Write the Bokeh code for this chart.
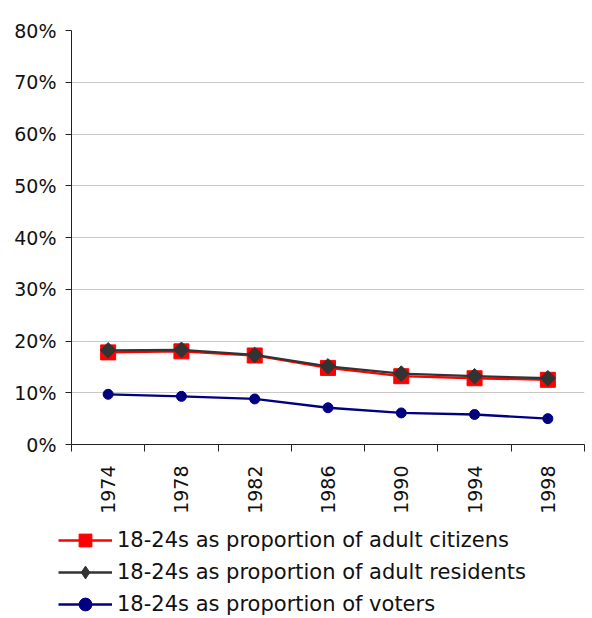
from bokeh.plotting import figure
from bokeh.layouts import column
from bokeh.models import (ColumnDataSource, Legend, LegendItem, FixedTicker,
                          NumeralTickFormatter, Range1d)
from bokeh.embed import file_html
from bokeh.resources import INLINE
import math

years = ["1974", "1978", "1982", "1986", "1990", "1994", "1998"]
citizens = [0.178, 0.180, 0.172, 0.148, 0.132, 0.128, 0.125]
residents = [0.182, 0.183, 0.173, 0.151, 0.137, 0.132, 0.128]
voters = [0.097, 0.093, 0.088, 0.071, 0.061, 0.058, 0.050]
y_ticks = [0.0, 0.1, 0.2, 0.3, 0.4, 0.5, 0.6, 0.7, 0.8]
labels = ["18-24s as proportion of adult citizens",
          "18-24s as proportion of adult residents",
          "18-24s as proportion of voters"]

xs = [i + 0.5 for i in range(len(years))]
src = ColumnDataSource(dict(x=xs, citizens=citizens, residents=residents, voters=voters))

FONT = "DejaVu Sans"
STYLES = [
    ("citizens", "#ff0000", dict(marker="square", size=15), dict(marker="square", size=15)),
    ("residents", "#333333", dict(marker="square", size=11, angle=math.pi / 4),
     dict(marker="diamond", size=17)),
    ("voters", "#000080", dict(marker="circle", size=10), dict(marker="circle", size=10)),
]


def add_series(fig, legend_style=False):
    out = []
    for col, color, mk, mk_leg in STYLES:
        ln = fig.line("x", col, source=src, line_color=color, line_width=2.3)
        sc = fig.scatter("x", col, source=src, fill_color=color, line_color=color,
                         **(mk_leg if legend_style else mk))
        out.append([ln, sc])
    return out


p = figure(frame_width=513, frame_height=414, output_backend="svg", toolbar_location=None,
           x_range=Range1d(0, len(years)), y_range=Range1d(0, 0.8),
           min_border_left=71, min_border_right=8, min_border_top=30, min_border_bottom=75)
p.outline_line_color = None
p.background_fill_color = "white"
p.border_fill_color = "white"
add_series(p)

# grid
p.xgrid.grid_line_color = None
p.ygrid.grid_line_color = "#c8c8c8"
p.ygrid.grid_line_width = 1

# y axis
p.yaxis.ticker = FixedTicker(ticks=y_ticks)
p.yaxis.formatter = NumeralTickFormatter(format="0%")
p.yaxis.major_tick_out = 6
p.yaxis.major_tick_in = 0
p.yaxis.minor_tick_out = 0
p.yaxis.major_label_standoff = 9
p.yaxis.axis_line_color = "#222222"
p.yaxis.major_tick_line_color = "#222222"
p.yaxis.major_label_text_font = FONT
p.yaxis.major_label_text_font_size = "19px"
p.yaxis.major_label_text_color = "#111111"

# x axis
p.xaxis.ticker = FixedTicker(ticks=xs, minor_ticks=list(range(len(years) + 1)))
p.xaxis.major_label_overrides = {x: y for x, y in zip(xs, years)}
p.xaxis.major_tick_out = 0
p.xaxis.major_tick_in = 0
p.xaxis.minor_tick_out = 7
p.xaxis.minor_tick_in = 0
p.xaxis.minor_tick_line_color = "#222222"
p.xaxis.axis_line_color = "#222222"
p.xaxis.major_label_orientation = math.pi / 2
p.xaxis.major_label_standoff = 14
p.xaxis.major_label_text_font = FONT
p.xaxis.major_label_text_font_size = "19px"
p.xaxis.major_label_text_color = "#111111"

# legend panel (separate figure below the chart; its series lie outside its view)
q = figure(width=592, height=99, output_backend="svg", toolbar_location=None,
           x_range=Range1d(100, 101), y_range=Range1d(100, 101),
           x_axis_location=None, y_axis_location=None,
           min_border_left=0, min_border_right=0, min_border_top=0, min_border_bottom=0)
q.outline_line_color = None
q.grid.visible = False
q.background_fill_color = "white"
q.border_fill_color = "white"
rends = add_series(q, legend_style=True)

can_unalign = "frame_align" in q.properties()
if can_unalign:
    q.frame_align = False
    p.frame_align = False
    leg_x, glyph_w = 58, 54
else:
    leg_x, glyph_w = 0, 41

legend = Legend(items=[LegendItem(label=lab, renderers=r) for lab, r in zip(labels, rends)],
                location=(leg_x, -2), orientation="vertical")
legend.border_line_color = None
legend.background_fill_alpha = 0
legend.label_text_font = FONT
legend.label_text_font_size = "21px"
legend.label_text_color = "#111111"
legend.glyph_width = glyph_w
legend.glyph_height = 32
legend.label_height = 32
legend.spacing = 0
legend.label_standoff = 5
legend.padding = 0
legend.margin = 0
q.add_layout(legend, "center")

open("out.html", "w").write(file_html(column(p, q, spacing=0), INLINE))
